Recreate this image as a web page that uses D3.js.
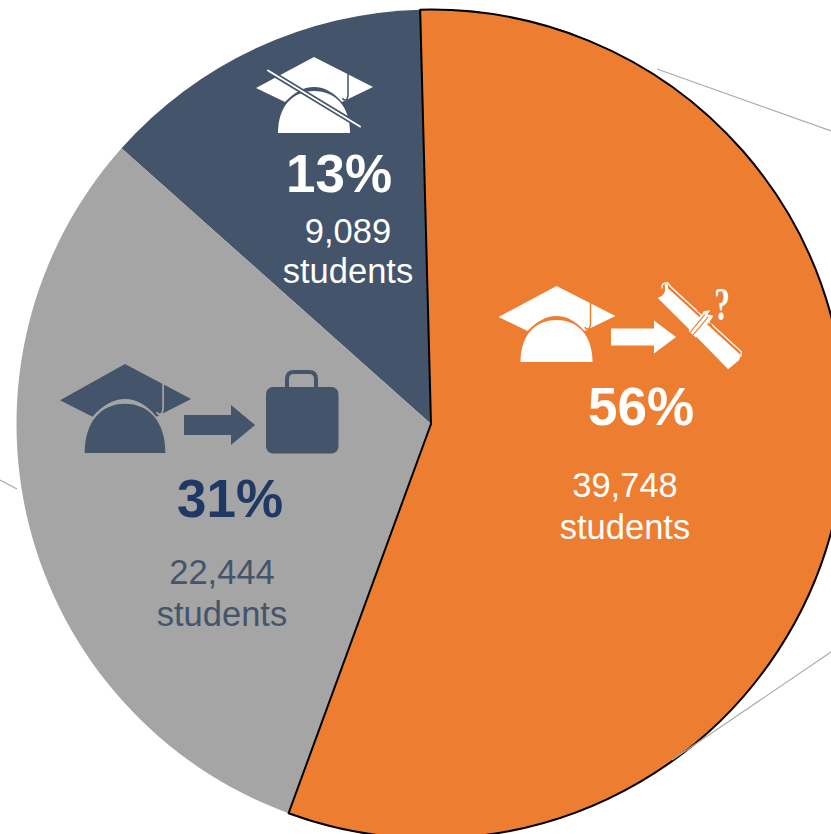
<!DOCTYPE html>
<html><head><meta charset="utf-8">
<script src="https://cdnjs.cloudflare.com/ajax/libs/d3/7.8.5/d3.min.js"></script>
<style>html,body{margin:0;padding:0;background:#fff;overflow:hidden}svg{display:block}text{font-family:"Liberation Sans",Arial,sans-serif}</style>
</head><body><svg id="c" width="831" height="834"></svg>
<script>
const categories = ["No degree", "Employed", "Graduated, not employed"];
const percentValues = [56, 31, 13];
const percentLabels = ["56%", "31%", "13%"];
const countLabels = ["39,748", "22,444", "9,089"];
const unitLabel = "students";
const colors = ["#ED7D31", "#A5A5A5", "#44546A"];

const NAVY = "#44546A", ORANGE = "#ED7D31";
const svg = d3.select("#c");
const cx = 431, cy = 424, R = 414.5;

const start = -1.5*Math.PI/180;
const pie = d3.pie().sort(null).startAngle(start).endAngle(start+2*Math.PI)(percentValues);
const arc = d3.arc().innerRadius(0).outerRadius(R);
const g = svg.append("g").attr("transform",`translate(${cx},${cy})`);
// reverse order so the outlined orange slice is on top
g.selectAll("path").data(pie.map((d,i)=>({d,i})).reverse()).join("path")
  .attr("d",o=>arc(o.d)).attr("fill",o=>colors[o.i])
  .attr("stroke",o=>o.i===0?"#000":"none").attr("stroke-width",2).attr("stroke-linejoin","round");

// thin leader lines
[[657,69,831,131],[0,480,17,489],[831,652,672,760]].forEach(d=>{
  svg.append("line").attr("x1",d[0]).attr("y1",d[1]).attr("x2",d[2]).attr("y2",d[3])
    .attr("stroke","#ABABAB").attr("stroke-width",1.2);
});

function cap(x,y,sx,sy,fill,bg){
  const n = svg.append("g").attr("transform",`translate(${x},${y}) scale(${sx},${sy})`);
  n.append("path").attr("fill",fill)
   .attr("d","M0,0 L59,30 L28,45 C20,36 11,30 0,30 C-11,30 -20,36 -29,45 L-58,31 Z");
  n.append("path").attr("fill","none").attr("stroke",bg).attr("stroke-width",1.5)
   .attr("d","M34,17 V37 Q34,43 31,43 Q29,43 28.5,41");
  n.append("path").attr("fill",fill)
   .attr("d","M-36,76 C-36,50 -22,34 0,34 C22,34 36,50 36,76 Z");
  return n;
}
function arrow(x,y,w,h,head,hh,fill){
  svg.append("path").attr("fill",fill)
   .attr("d",`M${x},${y-h/2} H${x+w-head} V${y-hh/2} L${x+w},${y} L${x+w-head},${y+hh/2} V${y+h/2} H${x} Z`);
}

// navy slice icon
cap(314,57,1,1,"#fff",NAVY);
svg.append("line").attr("x1",267).attr("y1",70).attr("x2",361).attr("y2",127)
  .attr("stroke",NAVY).attr("stroke-width",5);
svg.append("line").attr("x1",268).attr("y1",70.5).attr("x2",360).attr("y2",126.5)
  .attr("stroke","#fff").attr("stroke-width",2).attr("stroke-linecap","round");

// orange slice icon
cap(556.5,286,1,1,"#fff",ORANGE);
arrow(611,337,65,17,22,33,"#fff");
const scroll = svg.append("g").attr("transform","translate(699,327) rotate(42)");
scroll.append("path").attr("fill","#fff")
  .attr("d","M-50,6 Q-46,-2 -52,-7 Q-56,-9 -52,-11 L-49,-8 L50,-7 L52,-2 L50,12 L-10,8 Z");
scroll.append("path").attr("fill","none").attr("stroke","#fff").attr("stroke-width",1.3)
  .attr("d","M-53,-12 Q-58,-7 -53,-4 M-53,-12 L-48,-11 L48,-10 L51,-6");
scroll.append("path").attr("fill","#fff").attr("d","M-7,-15 L-3,-20 L-2,-15 L3,-18 L4,-14 L5,10 L-5,10 Z");
scroll.append("path").attr("fill","none").attr("stroke",ORANGE).attr("stroke-width",1.1)
  .attr("d","M-4,-13 L-3,10 M0,-14 L1,10 M-12,-11 L-6,-12 M5,-11 L10,-9");
svg.append("text").attr("transform","translate(722,320) scale(0.68,1)").attr("text-anchor","middle")
  .attr("font-size",46).attr("font-weight","bold").attr("fill","#fff")
  .style("font-family","'Liberation Serif',serif").text("?");

// gray slice icon
cap(125,364,1.12,1.17,NAVY,"#A5A5A5");
arrow(184,425,71,20,24,40,NAVY);
svg.append("rect").attr("x",266).attr("y",387).attr("width",72.5).attr("height",66.5).attr("rx",7).attr("fill",NAVY);
svg.append("path").attr("fill","none").attr("stroke",NAVY).attr("stroke-width",4)
  .attr("d","M287,388 V379 Q287,372 294,372 H309 Q316,372 316,379 V388");

// labels
const labels = [
 {p:[641,425],c:[625,497],u:[625,539],pf:"#fff",tf:"#fff"},
 {p:[230,517],c:[222,584],u:[222,626],pf:"#1F3864",tf:NAVY},
 {p:[339,192],c:[348,243],u:[348,283],pf:"#fff",tf:"#fff"}
];
labels.forEach((l,i)=>{
  svg.append("text").attr("x",l.p[0]).attr("y",l.p[1]).attr("text-anchor","middle")
    .attr("font-size",53).attr("font-weight","bold").attr("fill",l.pf).text(percentLabels[i]);
  svg.append("text").attr("x",l.c[0]).attr("y",l.c[1]).attr("text-anchor","middle")
    .attr("font-size",34.5).attr("fill",l.tf).text(countLabels[i]);
  svg.append("text").attr("x",l.u[0]).attr("y",l.u[1]).attr("text-anchor","middle")
    .attr("font-size",34.5).attr("fill",l.tf).text(unitLabel);
});
</script></body></html>
